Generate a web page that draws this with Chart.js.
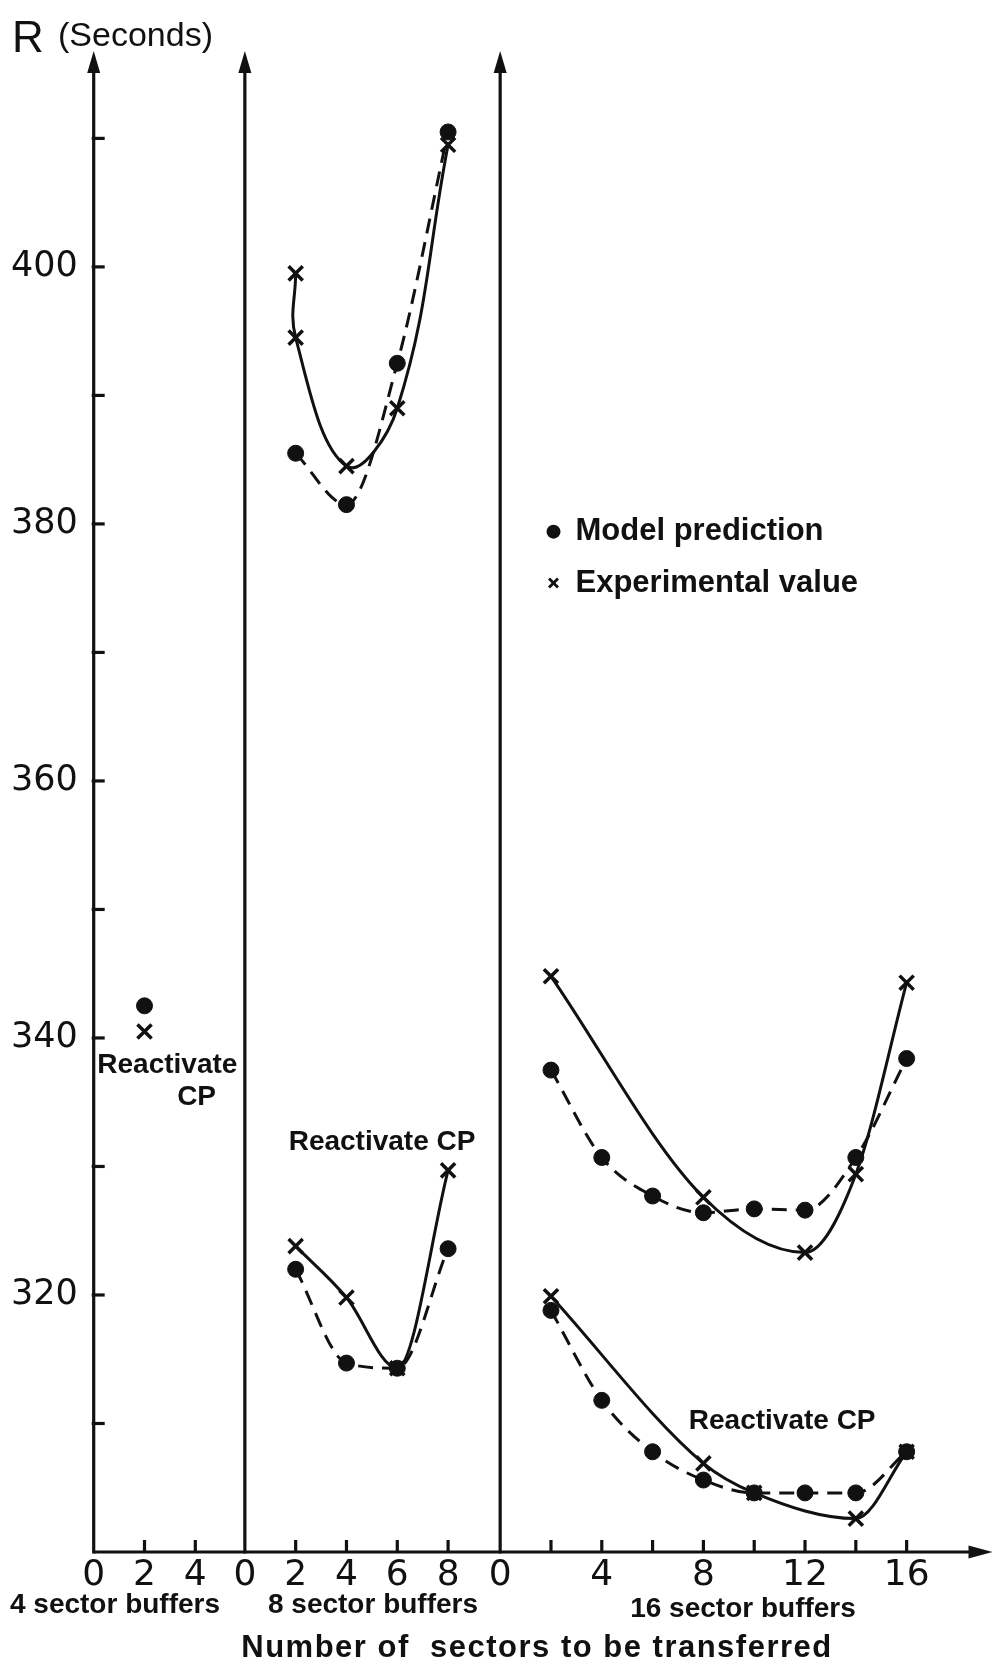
<!DOCTYPE html>
<html>
<head>
<meta charset="utf-8">
<title>R (Seconds) against number of sectors to be transferred</title>
<script src="https://cdn.jsdelivr.net/npm/chart.js@4.4.1/dist/chart.umd.min.js"></script>
<style>
  html, body { margin: 0; background: #fff; }
  canvas { display: block; }
</style>
</head>
<body>
<canvas id="chart" width="1006" height="1670"></canvas>
<script>
// values: R (seconds) against number of sectors transferred
const yTickLabels = [320, 340, 360, 380, 400];
const yTickMarks = [310, 320, 330, 340, 350, 360, 370, 380, 390, 400, 410];

const buf4Labels = [0, 2, 4];
const buf4Marks = [2, 4];
const buf8Labels = [0, 2, 4, 6, 8];
const buf8Marks = [2, 4, 6, 8];
const buf16Labels = [0, 4, 8, 12, 16];
const buf16Marks = [2, 4, 6, 8, 10, 12, 14, 16];
const panelNames = ['4 sector buffers', '8 sector buffers', '16 sector buffers'];

// 4 sector buffers (reactivate CP)
const buf4Sectors = [2];
const buf4Model = [342.5];
const buf4Exp = [340.5];

// 8 sector buffers
const buf8Sectors = [2, 4, 6, 8];
const buf8Model = [385.5, 381.5, 392.5, 410.5];
const buf8ExpSectors = [2, 2, 4, 6, 8];
const buf8Exp = [399.5, 394.5, 384.5, 389, 409.5];
const buf8ModelCP = [322, 314.7, 314.3, 323.6];
const buf8ExpCP = [323.8, 319.8, 314.3, 329.7];

// 16 sector buffers
const buf16Sectors = [2, 4, 6, 8, 10, 12, 14, 16];
const buf16Model = [337.5, 330.7, 327.7, 326.4, 326.7, 326.6, 330.7, 338.4];
const buf16ExpSectors = [2, 8, 12, 14, 16];
const buf16Exp = [344.8, 327.6, 323.3, 329.4, 344.3];
const buf16ModelCP = [318.8, 311.8, 307.8, 305.6, 304.6, 304.6, 304.6, 307.8];
const buf16ExpCPSectors = [2, 8, 10, 14, 16];
const buf16ExpCP = [319.9, 306.9, 304.6, 302.6, 307.8];

// layout: the three panels share one x scale, each shifted along it
const ink = '#111';
const off4 = 0, off8 = 5.95, off16 = 16;
const xMax = 35.38;
const panels = [
  { off: off4, labels: buf4Labels, marks: buf4Marks },
  { off: off8, labels: buf8Labels, marks: buf8Marks },
  { off: off16, labels: buf16Labels, marks: buf16Marks }
];
const xTicks = [];
panels.forEach(p => p.labels.forEach(l => xTicks.push({ value: p.off + l, label: String(l) })));

const pts = (off, xs, ys) => xs.map((s, i) => ({ x: off + s, y: ys[i] }));

const model = {
  borderColor: ink, backgroundColor: ink, pointStyle: 'circle', pointRadius: 8,
  pointBorderWidth: 1, borderWidth: 3, borderDash: [15, 9], showLine: true,
  cubicInterpolationMode: 'monotone'
};
const exper = {
  borderColor: ink, backgroundColor: ink, pointStyle: 'crossRot', pointRadius: 10,
  pointBorderWidth: 3.5, borderWidth: 3, showLine: true, cubicInterpolationMode: 'monotone'
};

const datasets = [
  { ...model, label: 'Model prediction', showLine: false, data: pts(off4, buf4Sectors, buf4Model) },
  { ...exper, label: 'Experimental value', showLine: false, data: pts(off4, buf4Sectors, buf4Exp) },
  { ...model, label: 'Model prediction', data: pts(off8, buf8Sectors, buf8Model) },
  { ...exper, label: 'Experimental value', cubicInterpolationMode: 'default', tension: 0.4,
    data: pts(off8, buf8ExpSectors, buf8Exp) },
  { ...model, label: 'Model prediction', data: pts(off8, buf8Sectors, buf8ModelCP) },
  { ...exper, label: 'Experimental value', data: pts(off8, buf8Sectors, buf8ExpCP) },
  { ...model, label: 'Model prediction', data: pts(off16, buf16Sectors, buf16Model) },
  { ...exper, label: 'Experimental value', data: pts(off16, buf16ExpSectors, buf16Exp) },
  { ...model, label: 'Model prediction', data: pts(off16, buf16Sectors, buf16ModelCP) },
  { ...exper, label: 'Experimental value', data: pts(off16, buf16ExpCPSectors, buf16ExpCP) }
];

const line = (ctx, x1, y1, x2, y2) => {
  ctx.beginPath(); ctx.moveTo(x1, y1); ctx.lineTo(x2, y2); ctx.stroke();
};

const frame = {
  id: 'frame',
  beforeDatasetsDraw(chart) {
    const { ctx, chartArea: a, scales: { x, y } } = chart;
    ctx.save();
    ctx.strokeStyle = ink; ctx.fillStyle = ink; ctx.lineWidth = 3.2; ctx.lineCap = 'butt';
    panels.forEach(p => {
      const px = x.getPixelForValue(p.off);
      line(ctx, px, a.bottom + 1.5, px, a.top + 14);
      ctx.beginPath();
      ctx.moveTo(px, a.top); ctx.lineTo(px - 6.5, a.top + 22); ctx.lineTo(px + 6.5, a.top + 22);
      ctx.closePath(); ctx.fill();
      p.marks.forEach(m => {
        const mx = x.getPixelForValue(p.off + m);
        line(ctx, mx, a.bottom, mx, a.bottom - 12);
      });
    });
    line(ctx, a.left, a.bottom, a.right - 14, a.bottom);
    ctx.beginPath();
    ctx.moveTo(a.right, a.bottom); ctx.lineTo(a.right - 24, a.bottom - 6.5); ctx.lineTo(a.right - 24, a.bottom + 6.5);
    ctx.closePath(); ctx.fill();
    yTickMarks.forEach(v => {
      const py = y.getPixelForValue(v);
      line(ctx, a.left - 2, py, a.left + 11, py);
    });
    ctx.restore();
  },
  afterDraw(chart) {
    const { ctx, scales: { x, y } } = chart;
    const at = (px, py, text, font, align) => {
      ctx.font = font; ctx.textAlign = align || 'center'; ctx.fillText(text, px, py);
    };
    ctx.save();
    ctx.fillStyle = ink; ctx.strokeStyle = ink; ctx.textBaseline = 'middle';
    const bold = 'bold 28px "Liberation Sans"';

    // axis title
    ctx.textBaseline = 'alphabetic';
    at(12, 52, 'R', '44px "Liberation Sans"', 'left');
    at(58, 46, '(Seconds)', '34px "Liberation Sans"', 'left');
    ctx.textBaseline = 'middle';

    // annotations
    at(x.getPixelForValue(off4 + 2.9), y.getPixelForValue(337.9), 'Reactivate', bold);
    at(x.getPixelForValue(off4 + 4.05), y.getPixelForValue(335.4), 'CP', bold);
    at(x.getPixelForValue(off8 + 5.4), y.getPixelForValue(331.9), 'Reactivate CP', bold);
    at(x.getPixelForValue(off16 + 11.1), y.getPixelForValue(310.2), 'Reactivate CP', bold);

    // legend
    const lx = x.getPixelForValue(off16 + 2.1);
    const ly1 = y.getPixelForValue(379.4), ly2 = y.getPixelForValue(375.4);
    ctx.beginPath(); ctx.arc(lx, ly1, 7, 0, Math.PI * 2); ctx.fill();
    ctx.lineWidth = 2.8;
    line(ctx, lx - 4.5, ly2 - 4.5, lx + 4.5, ly2 + 4.5);
    line(ctx, lx - 4.5, ly2 + 4.5, lx + 4.5, ly2 - 4.5);
    at(lx + 22, ly1, 'Model prediction', 'bold 31px "Liberation Sans"', 'left');
    at(lx + 22, ly2, 'Experimental value', 'bold 31px "Liberation Sans"', 'left');

    // panel names and axis title under the x axis
    at(115, 1605, panelNames[0], bold);
    at(373, 1605, panelNames[1], bold);
    at(743, 1609, panelNames[2], bold);
    ctx.letterSpacing = '1.5px';
    at(537, 1648, 'Number of  sectors to be transferred', 'bold 31px "Liberation Sans"');
    ctx.restore();
  }
};

new Chart(document.getElementById('chart'), {
  type: 'scatter',
  data: { datasets },
  options: {
    responsive: false,
    animation: false,
    layout: { padding: { left: 10, right: 10, top: 51, bottom: 0 } },
    plugins: { legend: { display: false }, tooltip: { enabled: false } },
    scales: {
      x: {
        type: 'linear', min: 0, max: xMax,
        afterBuildTicks: s => { s.ticks = xTicks.map(t => ({ value: t.value })); },
        afterFit: s => { s.height = 118; },
        grid: { display: false, drawTicks: false },
        border: { display: false },
        ticks: {
          autoSkip: false, maxRotation: 0, padding: 2, color: ink,
          font: { family: 'DejaVu Sans', size: 36 },
          callback: (v, i) => xTicks[i] ? xTicks[i].label : ''
        }
      },
      y: {
        type: 'linear', min: 300, max: 416.8,
        afterBuildTicks: s => { s.ticks = yTickLabels.map(v => ({ value: v })); },
        afterFit: s => { s.width = 83.7; },
        grid: { display: false, drawTicks: false },
        border: { display: false },
        ticks: {
          padding: 16, color: ink,
          font: { family: 'DejaVu Sans', size: 35 }
        }
      }
    }
  },
  plugins: [frame]
});
</script>
</body>
</html>
